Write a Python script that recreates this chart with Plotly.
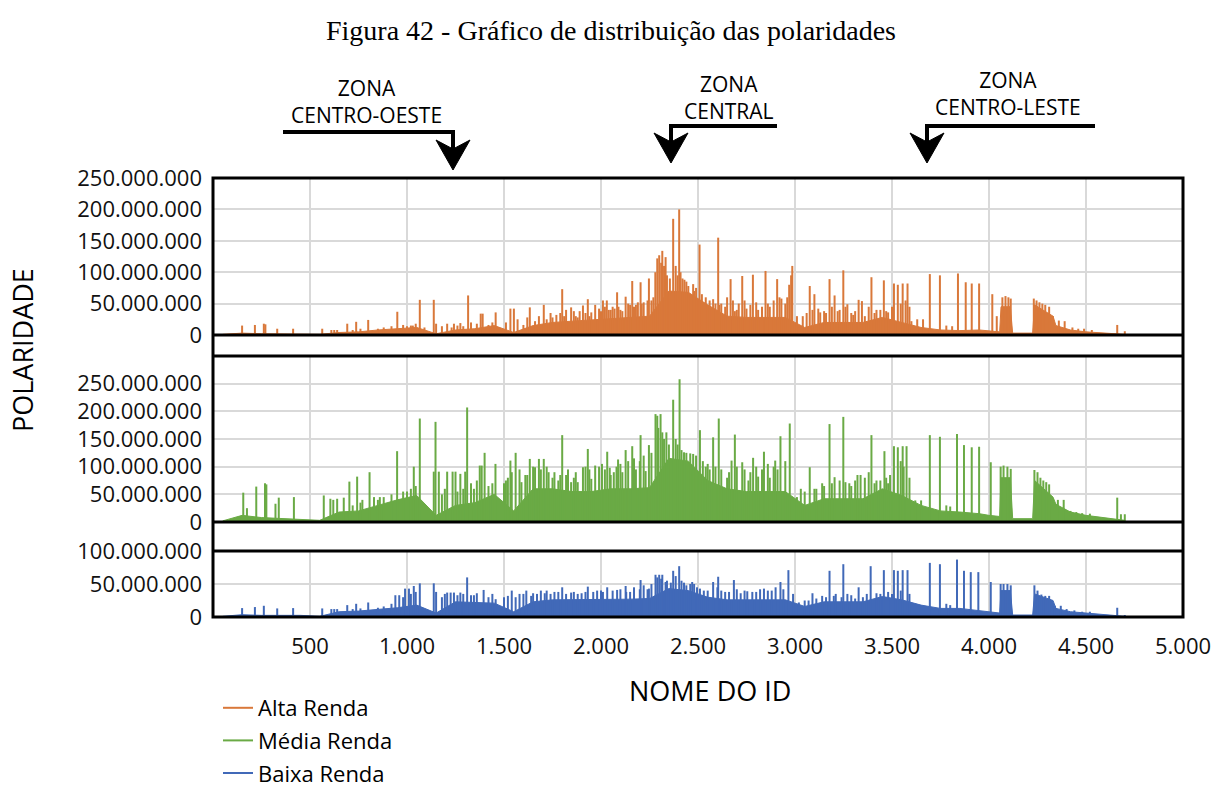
import plotly.graph_objects as go

# ---------------------------------------------------------------
# Polaridade por ID (valores em milhões)
# ---------------------------------------------------------------
faixas = ["Alta Renda", "Média Renda", "Baixa Renda"]
cores = ["#D9783A", "#6AAA45", "#4169B8"]

# contorno da massa densa de barras: centros de blocos de 100 IDs até 3.950,
# depois pontos de quebra na cauda (degraus bem marcados)
base_ids = list(range(50, 4000, 100)) + [4000, 4055, 4062, 4110, 4122, 4225, 4235,
                                          4330, 4345, 4420, 4500, 4580, 4700]
alta_base = [1, 3, 2, 2, 2, 1, 4, 5, 8, 10, 12, 2, 8, 10, 15, 4, 15, 20, 22, 23,
             26, 28, 30, 70, 68, 48, 30, 28, 28, 28, 12, 20, 20, 20, 28, 20, 12, 8,
             7, 8,
             6, 5, 45, 45, 3, 3, 48, 30, 15, 8, 5, 3, 1]
media_base = [2, 12, 8, 6, 5, 3, 18, 20, 30, 40, 48, 12, 30, 35, 50, 20, 60, 60, 55, 55,
              60, 60, 62, 115, 110, 75, 60, 55, 55, 55, 30, 42, 42, 42, 60, 48, 30, 20,
              18, 15,
              12, 10, 80, 80, 6, 6, 75, 45, 32, 18, 12, 8, 3]
baixa_base = [1, 3.5, 2.5, 2.5, 2.5, 1, 8, 9, 11, 14, 18, 6, 23, 22, 21, 8, 23, 26, 26, 26,
              27, 27, 28, 43, 40, 30, 26, 26, 26, 26, 16, 23, 23, 23, 31, 26, 18, 13,
              13, 10,
              8, 6, 40, 40, 3, 3, 35, 25, 13, 8, 6, 4, 1]

# picos individuais: ID e polaridade (milhões)
alta_pico_ids = [150, 216, 262, 270, 331, 413, 563, 610, 625, 640, 692, 738, 800, 950, 1000,
                 1030, 1066, 1138, 1150, 1207, 1242, 1275, 1315, 1380, 1390, 1457, 1533, 1551,
                 1600, 1633, 1660, 1705, 1720, 1800, 1846, 1870, 1907, 1932, 1970, 2010, 2030,
                 2050, 2083, 2127, 2161, 2204, 2247, 2290, 2300, 2316, 2333, 2372, 2403, 2420,
                 2440, 2460, 2475, 2480, 2508, 2578, 2604, 2668, 2700, 2728, 2783, 2848, 2908,
                 2930, 2960, 2980, 2986, 3076, 3100, 3130, 3178, 3204, 3249, 3270, 3328, 3345,
                 3394, 3458, 3510, 3530, 3555, 3580, 3630, 3660, 3695, 3747, 3840, 3880, 3911,
                 3949, 4017, 4069, 4085, 4100, 4112, 4231, 4245, 4260, 4275, 4290, 4310, 4330,
                 4360, 4390, 4430, 4460, 4490, 4530, 4661, 4700,
                 1740, 1770, 1820, 1890, 1950, 1990, 2060, 2100, 2140, 2180, 2220, 2260,
                 2540, 2560, 2620, 2640, 2690, 2750, 2810, 2870, 3040, 3160, 3220, 3300,
                 3420, 3480, 3600, 3780, 3810, 4040,
                 720, 760, 850, 880, 920, 980, 1020, 1045, 1090, 1180, 1230, 1260, 1290,
                 1330, 1360, 1420, 1440, 1510, 1570, 1620, 1680, 1750, 1790, 1810, 1860,
                 1880, 1920, 1940, 2000, 2020, 2040, 2070, 2090, 2110, 2150, 2170, 2190,
                 2210, 2240, 2270, 2280, 2310, 2325, 2340, 2355, 2385, 2395, 2410, 2430,
                 2450, 2490, 2520, 2590, 2610, 2650, 2680, 2710, 2740, 2770, 2800, 2830,
                 2860, 2890, 2920, 2950, 2970, 3010, 3060, 3090, 3120, 3150, 3190, 3230,
                 3260, 3290, 3310, 3360, 3380, 3410, 3440, 3470, 3500, 3545, 3570, 3590]
alta_pico_vals = [15, 16, 18, 17, 10, 10, 10, 8, 8, 8, 18, 21, 24, 37, 14,
                  15, 56, 56, 18, 18, 18, 19, 63, 34, 34, 36, 42, 42,
                  16, 44, 22, 48, 25, 73, 44, 30, 47, 57, 48, 55, 55,
                  40, 68, 61, 86, 84, 90, 122, 127, 134, 124, 185, 200, 90,
                  85, 65, 81, 70, 144, 57, 155, 89, 40, 94, 96, 102, 89,
                  58, 60, 95, 110, 78, 65, 36, 89, 63, 103, 49, 56, 54,
                  92, 87, 82, 80, 82, 82, 25, 25, 97, 95, 98, 84, 82,
                  82, 65, 60, 62, 60, 58, 58, 55, 52, 50, 48, 45, 30,
                  23, 22, 12, 10, 10, 8, 16, 6,
                  35, 32, 40, 38, 36, 42, 45, 40, 50, 48, 52, 55,
                  60, 55, 50, 45, 38, 42, 40, 45, 30, 35, 38, 32,
                  40, 36, 22, 15, 14, 30,
                  8, 10, 10, 12, 14, 16, 15, 18, 12, 14, 12, 15, 14,
                  20, 18, 16, 20, 20, 25, 28, 30, 28, 35, 30, 38,
                  28, 35, 30, 38, 45, 40, 42, 45, 38, 48, 45, 52,
                  50, 55, 60, 100, 115, 110, 95, 90, 110, 95, 100, 88,
                  78, 75, 65, 50, 48, 60, 55, 50, 55, 48, 52, 45,
                  50, 55, 60, 50, 80, 30, 35, 40, 42, 38, 45, 40,
                  45, 35, 38, 30, 45, 35, 40, 38, 45, 50, 55, 45]

media_pico_ids = [156, 175, 223, 268, 275, 322, 339, 417, 571, 605, 620, 640, 674, 703, 743,
                  770, 807, 830, 860, 949, 1000, 1035, 1066, 1138, 1147, 1164, 1207, 1235, 1250,
                  1275, 1300, 1310, 1345, 1375, 1385, 1400, 1456, 1533, 1560, 1590, 1633, 1660,
                  1680, 1705, 1730, 1800, 1846, 1880, 1907, 1932, 1970, 2005, 2032, 2066, 2088,
                  2127, 2161, 2204, 2247, 2281, 2290, 2307, 2316, 2337, 2372, 2405, 2428, 2460,
                  2475, 2510, 2578, 2607, 2632, 2673, 2690, 2728, 2784, 2840, 2898, 2925, 2973,
                  3076, 3100, 3178, 3204, 3249, 3260, 3322, 3338, 3394, 3461, 3510, 3530, 3555,
                  3575, 3620, 3650, 3695, 3747, 3835, 3871, 3911, 3949, 4009, 4060, 4075, 4095,
                  4112, 4234, 4250, 4265, 4280, 4295, 4310, 4330, 4355, 4385, 4420, 4450, 4480,
                  4520, 4661, 4680, 4700,
                  1500, 1520, 1610, 1750, 1780, 1820, 1860, 1950, 2050, 2110, 2180, 2230,
                  2540, 2560, 2650, 2760, 2810, 2870, 3030, 3140, 3290, 3420, 3480, 3780, 3800,
                  720, 760, 850, 880, 920, 980, 1020, 1045, 1180, 1195, 1260, 1290, 1330,
                  1360, 1420, 1440, 1510, 1540, 1580, 1620, 1650, 1690, 1720, 1760, 1790,
                  1830, 1870, 1920, 1940, 1990, 2020, 2045, 2080, 2100, 2140, 2170, 2200,
                  2220, 2260, 2295, 2325, 2350, 2385, 2395, 2415, 2440, 2490, 2525, 2550,
                  2590, 2620, 2660, 2700, 2740, 2770, 2800, 2830, 2860, 2890, 2910, 2950,
                  3010, 3050, 3110, 3150, 3190, 3230, 3280, 3310, 3360, 3380, 3410, 3440,
                  3470, 3490, 3545, 3560, 3590]
media_pico_vals = [53, 25, 64, 70, 68, 33, 44, 45, 48, 42, 40, 42, 44, 73, 82,
                   40, 90, 45, 45, 128, 55, 100, 187, 91, 181, 91, 91, 91, 91,
                   87, 91, 207, 60, 102, 102, 125, 105, 111, 125, 72, 114, 99,
                   114, 114, 90, 157, 72, 72, 99, 132, 102, 105, 127, 90, 113,
                   130, 137, 157, 139, 195, 192, 195, 162, 162, 221, 258, 126, 124,
                   123, 166, 153, 187, 60, 111, 158, 108, 116, 127, 111, 155, 178,
                   99, 60, 177, 81, 190, 72, 85, 85, 157, 128, 137, 135, 137,
                   137, 39, 39, 157, 154, 159, 139, 135, 136, 108, 100, 102, 100,
                   96, 94, 90, 80, 75, 72, 68, 42, 40, 40, 20, 18, 16,
                   15, 44, 14, 14,
                   70, 80, 85, 80, 75, 85, 80, 78, 85, 90, 95, 92,
                   100, 95, 80, 75, 82, 80, 60, 70, 65, 75, 70, 30, 28,
                   30, 35, 40, 45, 50, 55, 60, 65, 50, 60, 55, 60, 70,
                   75, 65, 70, 75, 90, 95, 85, 100, 95, 100, 90, 85,
                   95, 90, 100, 95, 100, 95, 98, 100, 105, 110, 115, 110,
                   120, 125, 170, 150, 140, 150, 140, 130, 125, 120, 110, 105,
                   100, 95, 90, 100, 95, 90, 100, 95, 105, 100, 95, 110,
                   45, 55, 60, 65, 70, 75, 70, 75, 80, 90, 70, 75,
                   80, 85, 110, 100, 80]

baixa_pico_ids = [150, 216, 262, 331, 413, 563, 610, 625, 640, 692, 738, 800, 940, 960, 990,
                  1010, 1035, 1066, 1138, 1150, 1207, 1225, 1242, 1275, 1310, 1345, 1395, 1457,
                  1540, 1615, 1690, 1720, 1800, 1846, 1932, 2032, 2083, 2127, 2204, 2247, 2281,
                  2300, 2316, 2333, 2372, 2403, 2428, 2470, 2480, 2510, 2578, 2604, 2685, 2754,
                  2840, 2925, 2966, 3090, 3178, 3249, 3328, 3390, 3458, 3510, 3530, 3555, 3580,
                  3695, 3747, 3835, 3871, 3906, 3945, 4009, 4060, 4075, 4095, 4112, 4234, 4250,
                  4270, 4290, 4310, 4340, 4370, 4400, 4440, 4480, 4520, 4661, 4700,
                  1500, 1580, 1650, 1760, 1880, 1960, 2000, 2150, 2240, 2550, 2640, 2720,
                  2800, 2880, 3050, 3140, 3210, 3290, 3420, 3780, 3800,
                  720, 760, 850, 880, 920, 980, 1020, 1045, 1180, 1195, 1260, 1290, 1330,
                  1360, 1420, 1440, 1520, 1560, 1600, 1640, 1670, 1710, 1740, 1780, 1820,
                  1860, 1900, 1920, 1980, 2010, 2060, 2100, 2130, 2170, 2200, 2220, 2260,
                  2290, 2310, 2340, 2360, 2385, 2415, 2440, 2460, 2495, 2530, 2600, 2620,
                  2660, 2700, 2740, 2780, 2820, 2860, 2900, 2940, 2990, 3020, 3070, 3110,
                  3160, 3200, 3240, 3270, 3310, 3350, 3370, 3440, 3480, 3500, 3545, 3590]
baixa_pico_vals = [13.5, 15, 17, 13, 13.5, 13, 12, 12, 12, 18, 20, 22, 33, 33, 43,
                   43, 47, 51, 51, 38, 37, 37, 37, 37, 60, 33, 41, 27,
                   40, 40, 40, 40, 45, 37, 46, 45, 41, 47, 56, 43, 64,
                   64, 64, 53, 70, 77, 52, 53, 50, 43, 53, 61, 56, 39,
                   43, 53, 71, 36, 70, 80, 45, 77, 71, 71, 70, 71, 71,
                   82, 80, 87, 70, 68, 68, 53, 50, 50, 50, 48, 48, 40,
                   34, 32, 32, 17, 17, 12, 10, 8, 8, 14, 3,
                   30, 35, 36, 38, 35, 38, 40, 38, 42, 40, 38, 36,
                   38, 40, 25, 32, 35, 33, 36, 20, 18,
                   12, 13, 14, 16, 20, 30, 35, 38, 30, 35, 33, 35, 33,
                   36, 30, 35, 32, 30, 35, 32, 35, 36, 35, 38, 35,
                   38, 36, 38, 40, 38, 40, 42, 38, 45, 42, 48, 50,
                   60, 58, 55, 52, 62, 55, 48, 50, 45, 40, 45, 40,
                   38, 42, 40, 38, 42, 40, 45, 42, 35, 22, 25, 28,
                   30, 32, 30, 35, 28, 30, 35, 35, 38, 35, 40, 35]

bases = [alta_base, media_base, baixa_base]
picos = [(alta_pico_ids, alta_pico_vals), (media_pico_ids, media_pico_vals),
         (baixa_pico_ids, baixa_pico_vals)]

MI = 1_000_000

# ---------------------------------------------------------------
# geometria da página (pixels -> coordenadas "paper")
# ---------------------------------------------------------------
W, H = 1222, 789
L, R, T, B = 213, 1183, 178, 617


def px(x):
    return (x - L) / (R - L)


def py(y):
    return (B - y) / (B - T)


painel_px = [(178, 335), (356, 522), (551, 617)]   # topo, base de cada painel
y_max = [250, 300, 100]
y_ticks = [[0, 50, 100, 150, 200, 250], [0, 50, 100, 150, 200, 250], [0, 50, 100]]

fig = go.Figure()

for k in range(3):
    sfx = "" if k == 0 else str(k + 1)
    # massa densa de barras
    fig.add_trace(go.Scatter(
        x=base_ids, y=[v * MI for v in bases[k]], mode="lines",
        line=dict(color=cores[k], width=1), fill="tozeroy", fillcolor=cores[k],
        xaxis="x" + sfx, yaxis="y" + sfx, showlegend=False, hoverinfo="skip",
    ))
    # picos como segmentos verticais
    ids, vals = picos[k]
    xs, ys = [], []
    for i, v in zip(ids, vals):
        xs += [i, i, None]
        ys += [0, v * MI, None]
    fig.add_trace(go.Scatter(
        x=xs, y=ys, mode="lines", name=faixas[k], legendgroup=faixas[k],
        line=dict(color=cores[k], width=2),
        xaxis="x" + sfx, yaxis="y" + sfx,
    ))

fonte = "Open Sans"
eixos = {}
for k in range(3):
    sfx = "" if k == 0 else str(k + 1)
    topo, base = painel_px[k]
    eixos["xaxis" + sfx] = dict(
        domain=[0, 1], range=[0, 5000], anchor="y" + sfx,
        tickvals=list(range(500, 5001, 500)), tickformat=",d",
        showticklabels=(k == 2), ticks="", ticklabelstandoff=14,
        showgrid=True, gridcolor="#D9D9D9", gridwidth=2,
        zeroline=False, showline=False,
        tickfont=dict(family=fonte, size=22, color="#111"),
        matches=None if k == 0 else "x",
    )
    eixos["yaxis" + sfx] = dict(
        domain=[py(base), py(topo)], range=[0, y_max[k] * MI], anchor="x" + sfx,
        tickvals=[t * MI for t in y_ticks[k]], tickformat=",d",
        ticks="", ticklabelstandoff=10,
        showgrid=True, gridcolor="#D9D9D9", gridwidth=2,
        zeroline=False, showline=False,
        tickfont=dict(family=fonte, size=22, color="#111"),
    )

# moldura e divisórias entre painéis
formas = [dict(type="rect", xref="paper", yref="paper", x0=0, x1=1, y0=0, y1=1,
               line=dict(color="black", width=3), layer="above")]
for yy in [335, 356, 522, 551]:
    formas.append(dict(type="line", xref="paper", yref="paper", x0=0, x1=1,
                       y0=py(yy), y1=py(yy), line=dict(color="black", width=3),
                       layer="above"))


# setas das zonas
def seta(x_ini, x_vira, y_linha, y_ponta):
    return [dict(
        type="path", xref="paper", yref="paper",
        path=f"M {px(x_ini)} {py(y_linha)} L {px(x_vira)} {py(y_linha)} "
             f"L {px(x_vira)} {py(y_ponta - 20)}",
        line=dict(color="black", width=4),
    ), dict(
        type="path", xref="paper", yref="paper",
        path=f"M {px(x_vira)} {py(y_ponta)} L {px(x_vira - 17)} {py(y_ponta - 30)} "
             f"L {px(x_vira)} {py(y_ponta - 21)} L {px(x_vira + 17)} {py(y_ponta - 30)} Z",
        fillcolor="black", line=dict(color="black", width=1),
    )]


formas += seta(283, 453, 132, 170)
formas += seta(777, 671, 126, 163)
formas += seta(1095, 927, 126, 163)

zonas = [("ZONA<br>CENTRO-OESTE", 366, 101),
         ("ZONA<br>CENTRAL", 729, 97),
         ("ZONA<br>CENTRO-LESTE", 1008, 93)]
anots = []
for txt, xc, yc in zonas:
    anots.append(dict(text=txt, xref="paper", yref="paper", x=px(xc), y=py(yc),
                      xanchor="center", yanchor="middle", showarrow=False,
                      font=dict(family=fonte, size=21, color="black")))

anots.append(dict(text="POLARIDADE", xref="paper", yref="paper", x=px(22), y=py(350),
                  xanchor="center", yanchor="middle", textangle=-90, showarrow=False,
                  font=dict(family=fonte, size=27, color="black")))
anots.append(dict(text="NOME DO ID", xref="paper", yref="paper", x=px(710), y=py(690),
                  xanchor="center", yanchor="middle", showarrow=False,
                  font=dict(family=fonte, size=27, color="black")))

fig.update_layout(
    width=W, height=H,
    margin=dict(l=L, r=W - R, t=T, b=H - B, autoexpand=False),
    paper_bgcolor="white", plot_bgcolor="white",
    separators=",.",
    title=dict(text="Figura 42 - Gráfico de distribuição das polaridades",
               x=0.5, xanchor="center", y=1 - 30 / H, yanchor="middle",
               font=dict(family="Liberation Serif", size=28, color="black")),
    shapes=formas, annotations=anots,
    legend=dict(x=px(218), y=py(687), xanchor="left", yanchor="top",
                orientation="v", tracegroupgap=1, bgcolor="rgba(0,0,0,0)",
                font=dict(family=fonte, size=22, color="black")),
    showlegend=True,
    **eixos,
)

fig.write_html("out.html")
